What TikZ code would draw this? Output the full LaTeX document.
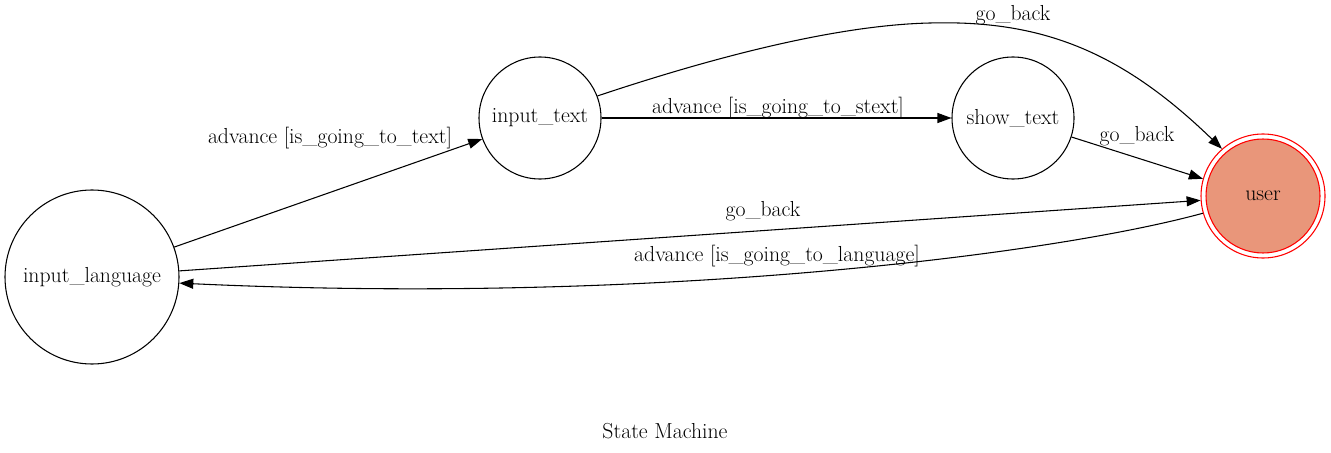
\documentclass[tikz,border=0pt]{standalone}
\usetikzlibrary{arrows.meta}
\definecolor{salmonfill}{RGB}{233,150,122}
\newcommand\lblfont{\fontsize{16.3}{19}\selectfont}
\begin{document}
\begin{tikzpicture}[x=0.75pt,y=-0.75pt,
  state/.style={circle,draw,line width=0.8pt,inner sep=0pt,font=\lblfont},
  edge/.style={draw,line width=0.8pt,-{Triangle[length=10.5pt,width=7.5pt]}},
  lbl/.style={inner sep=0pt,font=\lblfont}]
\useasboundingbox (0,0) rectangle (1331,453);
% states
\node[state,minimum size=130.5pt] (il) at (92,277) {input\_language};
\node[state,minimum size=91.5pt] (it) at (540,118) {input\_text};
\node[state,minimum size=91.5pt] (st) at (1013,118) {show\_text};
\node[state,draw=red,minimum size=93pt] (uo) at (1263,196) {};
\node[state,draw=red,fill=salmonfill,minimum size=85.5pt] (user) at (1263,196) {user};
\coordinate (top) at (930,23);
% edges
\draw[edge] (il.20) -- (it.200);
\draw[edge] (it.east) -- (st.west);
\draw[edge] (st.342) -- (uo.164);
\draw[edge] (il.4.6) -- (uo.184.6);
\draw[edge] (it.21) .. controls (720,55) and (840,25) .. (top) .. controls (1040,20) and (1120,50) .. (uo.131);
\draw[edge] (uo.196) .. controls (1050,255) and (650,305) .. (il.356);
% labels
\node[lbl] (l1) at (330,138) {advance [is\_going\_to\_text]};
\node[lbl] (l2) at (778,108) {advance [is\_going\_to\_stext]};
\node[lbl] (l3) at (1013,15) {go\_back};
\node[lbl] (l4) at (1137,136) {go\_back};
\node[lbl] (l5) at (763,211) {go\_back};
\node[lbl] (l6) at (777,256) {advance [is\_going\_to\_language]};
\node[lbl] (title) at (665,431) {State Machine};
\end{tikzpicture}
\end{document}
